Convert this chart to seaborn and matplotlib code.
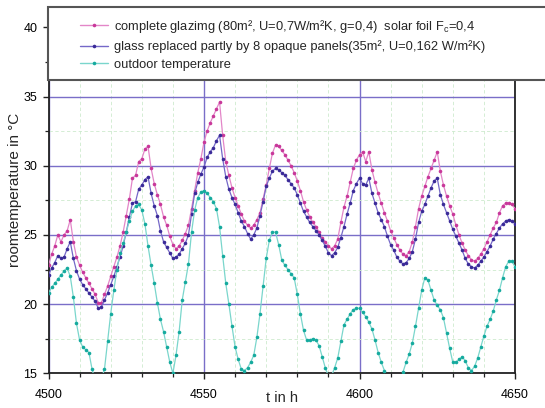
import numpy as np
import pandas as pd
import matplotlib
matplotlib.use("Agg")
import matplotlib.pyplot as plt
import seaborn as sns
from matplotlib.patches import Rectangle
from matplotlib.lines import Line2D
from matplotlib.ticker import MultipleLocator

# ---------------- data (hourly values) ----------------
t_start = 4500
t_end = 4650

complete_glazing = [
    22.8, 23.6, 24.2, 25.0, 24.5, 25.0, 25.3, 26.1, 24.5, 23.4,
    22.8, 22.3, 21.9, 21.5, 21.1, 20.7, 20.1, 20.1, 20.7, 21.3,
    22.0, 22.7, 23.4, 24.2, 25.2, 26.4, 27.6, 29.1, 29.3, 30.3,
    30.5, 31.2, 31.4, 29.8, 28.7, 27.9, 27.2, 26.3, 25.7, 24.9,
    24.3, 24.0, 24.2, 24.6, 25.1, 25.7, 26.9, 28.2, 29.5, 30.5,
    31.7, 32.5, 33.1, 33.6, 34.1, 34.6, 32.2, 30.3, 29.3, 28.4,
    27.7, 27.1, 26.5, 26.0, 25.7, 25.5, 25.7, 26.1, 26.6, 27.6,
    28.6, 29.8, 30.9, 31.5, 31.4, 31.1, 30.8, 30.4, 30.0, 29.5,
    28.9, 28.2, 27.4, 26.8, 26.3, 25.9, 25.6, 25.2, 24.8, 24.5,
    24.2, 24.0, 24.2, 24.7, 25.9, 27.0, 27.8, 28.8, 29.8, 30.4,
    30.8, 31.0, 30.3, 31.0, 29.7, 28.8, 28.0, 27.3, 26.6, 26.0,
    25.3, 24.8, 24.3, 23.9, 23.6, 23.5, 23.8, 24.5, 25.6, 26.9,
    27.8, 28.5, 29.2, 29.8, 30.4, 31.0, 29.6, 28.6, 27.8, 27.1,
    26.5, 25.7, 25.0, 24.4, 23.9, 23.5, 23.2, 23.1, 23.3, 23.6,
    24.0, 24.5, 25.0, 25.5, 25.9, 26.6, 27.1, 27.3, 27.3, 27.2,
    26.9,
]

opaque_panels = [
    22.1, 22.6, 23.0, 23.5, 23.3, 23.4, 24.0, 24.5, 23.3, 22.4,
    21.8, 21.4, 21.1, 20.8, 20.5, 20.2, 19.7, 19.8, 20.3, 20.8,
    21.4, 22.0, 22.7, 23.4, 24.2, 25.2, 26.3, 27.3, 27.4, 28.3,
    28.6, 29.0, 29.2, 28.0, 27.1, 26.4, 25.3, 24.5, 24.1, 23.7,
    23.3, 23.4, 23.6, 24.0, 24.4, 25.0, 26.5, 28.0, 28.8, 29.4,
    29.9, 30.6, 31.0, 31.3, 31.8, 32.2, 30.5, 29.2, 28.3, 27.7,
    27.2, 26.6, 26.0, 25.6, 25.1, 24.7, 25.0, 25.5, 26.4, 27.4,
    28.5, 29.1, 29.6, 29.8, 29.7, 29.5, 29.3, 29.0, 28.7, 28.4,
    27.9, 27.3, 26.7, 26.3, 25.9, 25.6, 25.3, 25.0, 24.6, 24.2,
    23.7, 23.5, 23.7, 24.1, 24.8, 25.6, 26.5, 27.3, 28.2, 28.7,
    29.1, 28.7, 28.6, 29.1, 28.0, 27.3, 26.6, 26.1, 25.6, 24.9,
    24.3, 23.9, 23.4, 23.1, 22.9, 23.0, 23.3, 23.8, 24.7, 25.9,
    26.7, 27.2, 27.8, 28.4, 28.9, 29.1, 27.9, 27.2, 26.6, 26.0,
    25.4, 24.9, 24.4, 23.9, 23.3, 22.9, 22.7, 22.6, 22.8, 23.1,
    23.4, 23.8, 24.2, 24.7, 25.1, 25.5, 25.8, 26.0, 26.1, 26.0,
    25.8,
]

outdoor = [
    20.8, 21.2, 21.5, 21.8, 22.1, 22.4, 22.6, 22.0, 20.5, 18.6,
    17.4, 16.9, 16.7, 16.5, 15.3, 14.5, 14.2, 14.6, 15.3, 17.3,
    19.3, 21.0, 22.5, 23.7, 24.4, 25.2, 26.0, 26.7, 27.1, 27.2,
    26.8, 25.8, 24.2, 22.8, 21.5, 20.1, 18.9, 18.0, 16.9, 15.8,
    15.0, 16.3, 18.0, 20.3, 21.6, 22.9, 25.2, 26.8, 27.7, 28.1,
    28.2, 28.0, 27.7, 27.4, 26.9, 25.6, 23.5, 21.5, 20.0, 18.4,
    16.9, 16.0, 15.3, 15.2, 15.4, 15.8, 16.3, 17.6, 19.3, 21.3,
    23.3, 24.6, 25.2, 25.2, 24.3, 23.2, 22.8, 22.5, 22.2, 21.9,
    20.7, 19.3, 18.1, 17.4, 17.4, 17.5, 17.4, 17.0, 16.2, 15.4,
    14.8, 14.8, 15.4, 16.1, 17.3, 18.5, 18.9, 19.3, 19.6, 19.7,
    19.7, 19.4, 19.1, 18.7, 18.2, 17.4, 16.5, 15.8, 15.2, 14.6,
    14.3, 14.1, 14.2, 14.6, 15.1, 15.8, 16.4, 17.2, 18.4, 19.7,
    21.0, 21.9, 21.75, 21.0, 20.3, 19.9, 19.6, 19.0, 17.9, 16.8,
    15.8, 15.8, 16.0, 16.2, 15.9, 15.4, 15.2, 15.5, 16.1, 16.9,
    17.7, 18.4, 18.9, 19.5, 20.3, 21.0, 21.9, 22.7, 23.1, 23.1,
    22.7,
]

labels = [
    "complete glazimg (80m², U=0,7W/m²K, g=0,4)  solar foil F$_\\mathregular{c}$=0,4",
    "glass replaced partly by 8 opaque panels(35m², U=0,162 W/m²K)",
    "outdoor temperature",
]
x_ticks = [4500, 4550, 4600, 4650]
y_ticks = [15, 20, 25, 30, 35, 40]

hours = np.arange(t_start, t_end + 1)
df = pd.DataFrame({
    "t": hours,
    "complete": complete_glazing,
    "opaque": opaque_panels,
    "outdoor": outdoor,
})

# ---------------- styling ----------------
sns.set_theme(style="white")
plt.rcParams["font.family"] = ["Liberation Sans", "DejaVu Sans"]

W, H = 545, 408
fig = plt.figure(figsize=(W / 100, H / 100), dpi=100)
ax_l, ax_r, ax_b, ax_t = 48.5, 515.0, 373.3, 7.0
ax = fig.add_axes([ax_l / W, (H - ax_b) / H, (ax_r - ax_l) / W, (ax_b - ax_t) / H])

styles = [
    ("complete", "#e386c8", "#c8389a"),
    ("opaque", "#7568c8", "#3a2a98"),
    ("outdoor", "#7ad6cc", "#15aa9e"),
]
handles = []
for col, lc, mc in styles:
    sns.lineplot(data=df, x="t", y=col, ax=ax, color=lc, linewidth=0.9,
                 marker="o", markersize=2.6, markerfacecolor=mc,
                 markeredgecolor=mc, markeredgewidth=0, legend=False, zorder=3)
    handles.append(Line2D([], [], color=lc, lw=1.0, marker="o", markersize=2.6,
                          markerfacecolor=mc, markeredgecolor=mc, markeredgewidth=0))

ax.set_xlim(t_start, t_end)
ax.set_ylim(15, 15 + (ax_b - ax_t) / 13.84)
ax.set_xticks(x_ticks)
ax.set_yticks(y_ticks)
ax.xaxis.set_minor_locator(MultipleLocator(10))
ax.yaxis.set_minor_locator(MultipleLocator(2.5))

ax.grid(which="major", color="#7a6ec8", linewidth=1.0, zorder=1)
ax.grid(which="minor", color="#cdeacd", linewidth=0.6, linestyle=(0, (4, 3)), zorder=1)
ax.set_axisbelow(True)

for s in ["left", "bottom", "right"]:
    ax.spines[s].set_color("#222222")
    ax.spines[s].set_linewidth(1.3)
ax.spines["top"].set_visible(False)

ax.tick_params(which="both", direction="out", left=True, bottom=True,
               top=False, right=False, colors="#222222", labelcolor="black")
ax.tick_params(which="major", length=4, width=1.0, labelsize=9)
ax.tick_params(which="minor", length=3, width=0.9)
ax.tick_params(axis="x", which="major", pad=7)
ax.tick_params(axis="y", which="major", pad=4)

ax.set_xlabel("t in h", fontsize=10.5)
ax.set_ylabel("roomtemperature in °C", fontsize=11)
ax.xaxis.set_label_coords(0.5, (ax_b - 391) / (ax_b - ax_t))
ax.yaxis.set_label_coords((22 - ax_l) / (ax_r - ax_l), 0.5)

# legend box spanning the top of the plot
rect = Rectangle((48 / W, (H - 80) / H), (W - 48) / W + 0.02, (80 - 7) / H,
                 transform=fig.transFigure, facecolor="white",
                 edgecolor="#555555", linewidth=1.5, zorder=3)
fig.add_artist(rect)
fig.legend(handles, labels, loc="upper left",
           bbox_to_anchor=(80 / W, 1 - 18 / H), bbox_transform=fig.transFigure,
           frameon=False, fontsize=9.3, handlelength=2.2, handletextpad=0.4,
           labelspacing=0.42, borderpad=0, borderaxespad=0)

fig.savefig("out.png", dpi=100)
